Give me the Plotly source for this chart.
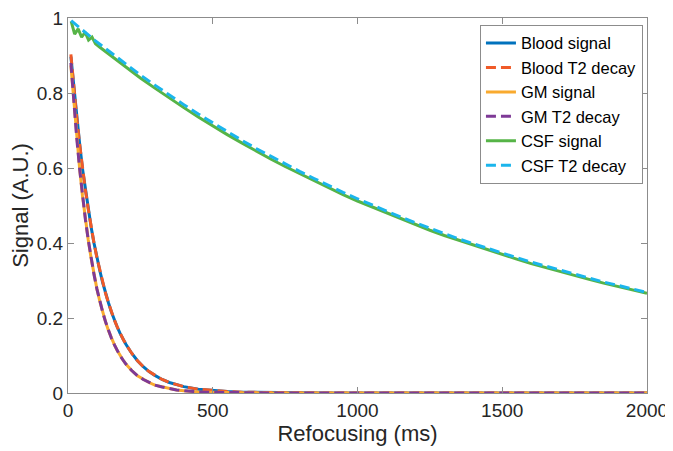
import plotly.graph_objects as go

# Refocusing times (ms) for blood / GM curves
fast_t = [10, 20, 30, 40, 50, 60, 70, 80, 90, 100, 110, 120, 130, 140, 150, 160, 170, 180, 190, 200,
          220, 240, 260, 280, 300, 325, 350, 375, 400, 450, 500, 550, 600, 700, 800, 900, 1000,
          1200, 1400, 1600, 1800, 2000]

blood_signal = [0.897, 0.818, 0.733, 0.666, 0.598, 0.543, 0.489, 0.442, 0.399, 0.360, 0.326, 0.294,
                0.265, 0.240, 0.216, 0.195, 0.176, 0.159, 0.144, 0.130, 0.106, 0.086, 0.070, 0.057,
                0.047, 0.036, 0.028, 0.022, 0.017, 0.010, 0.006, 0.004, 0.002, 0.001, 0.000, 0.000,
                0.000, 0.000, 0.000, 0.000, 0.000, 0.000]
blood_t2 = [0.903, 0.815, 0.736, 0.665, 0.600, 0.542, 0.490, 0.442, 0.399, 0.360, 0.326, 0.294,
            0.265, 0.240, 0.216, 0.195, 0.176, 0.159, 0.144, 0.130, 0.106, 0.086, 0.070, 0.057,
            0.047, 0.036, 0.028, 0.022, 0.017, 0.010, 0.006, 0.004, 0.002, 0.001, 0.000, 0.000,
            0.000, 0.000, 0.000, 0.000, 0.000, 0.000]
gm_signal = [0.874, 0.777, 0.678, 0.600, 0.526, 0.463, 0.408, 0.359, 0.315, 0.277, 0.244, 0.215,
             0.189, 0.166, 0.146, 0.129, 0.113, 0.099, 0.088, 0.077, 0.060, 0.046, 0.036, 0.028,
             0.021, 0.016, 0.011, 0.008, 0.006, 0.003, 0.002, 0.001, 0.001, 0.000, 0.000, 0.000,
             0.000, 0.000, 0.000, 0.000, 0.000, 0.000]
gm_t2 = [0.880, 0.774, 0.681, 0.599, 0.527, 0.463, 0.408, 0.359, 0.315, 0.277, 0.244, 0.215,
         0.189, 0.166, 0.146, 0.129, 0.113, 0.099, 0.088, 0.077, 0.060, 0.046, 0.036, 0.028,
         0.021, 0.016, 0.011, 0.008, 0.006, 0.003, 0.002, 0.001, 0.001, 0.000, 0.000, 0.000,
         0.000, 0.000, 0.000, 0.000, 0.000, 0.000]

# Refocusing times (ms) for CSF curves
csf_t = [11, 23, 35, 47, 59, 71, 83, 95, 110, 150, 200, 250, 300, 350, 400, 450, 500, 550, 600,
         650, 700, 750, 800, 850, 900, 950, 1000, 1050, 1100, 1150, 1200, 1250, 1300, 1350, 1400,
         1450, 1500, 1550, 1600, 1650, 1700, 1750, 1800, 1850, 1900, 1950, 2000]
csf_signal = [0.991, 0.957, 0.971, 0.949, 0.962, 0.941, 0.949, 0.931, 0.922, 0.898, 0.869, 0.840,
              0.813, 0.786, 0.761, 0.736, 0.712, 0.689, 0.667, 0.645, 0.624, 0.604, 0.585, 0.566,
              0.547, 0.529, 0.512, 0.496, 0.480, 0.464, 0.449, 0.434, 0.420, 0.407, 0.394, 0.381,
              0.369, 0.357, 0.345, 0.334, 0.324, 0.313, 0.303, 0.293, 0.284, 0.275, 0.266]
csf_t2 = [0.993, 0.985, 0.977, 0.970, 0.962, 0.954, 0.947, 0.939, 0.930, 0.906, 0.877, 0.848,
          0.821, 0.794, 0.769, 0.744, 0.720, 0.696, 0.674, 0.652, 0.631, 0.611, 0.591, 0.572,
          0.553, 0.535, 0.518, 0.501, 0.485, 0.469, 0.454, 0.439, 0.425, 0.411, 0.398, 0.385,
          0.373, 0.361, 0.349, 0.338, 0.327, 0.316, 0.306, 0.296, 0.287, 0.277, 0.268]

names = ["Blood signal", "Blood T2 decay", "GM signal", "GM T2 decay", "CSF signal", "CSF T2 decay"]
colors = ["#0072BD", "#F05A28", "#F9AA2E", "#7E3A96", "#56B447", "#1BB5EC"]

series = [
    (fast_t, blood_signal, "solid"),
    (fast_t, blood_t2, "10px,5px"),
    (fast_t, gm_signal, "solid"),
    (fast_t, gm_t2, "10px,5px"),
    (csf_t, csf_signal, "solid"),
    (csf_t, csf_t2, "10px,5px"),
]

fig = go.Figure()
for (xs, ys, dash), name, col in zip(series, names, colors):
    fig.add_trace(go.Scatter(x=xs, y=ys, mode="lines", name=name,
                             line=dict(color=col, width=3, dash=dash)))

axis_common = dict(showline=True, linecolor="#8c8c8c", linewidth=1, mirror="ticks",
                   ticks="inside", ticklen=6, tickcolor="#8c8c8c", showgrid=False,
                   zeroline=False, automargin=False, ticklabeloverflow="allow",
                   tickfont=dict(size=19, color="#262626"))

# page body has an 8px margin, so the figure is sized/margined to compensate
fig.update_layout(
    width=665, height=443,
    margin=dict(l=60, r=26, t=10, b=58, autoexpand=False),
    paper_bgcolor="white", plot_bgcolor="white",
    font=dict(family="Liberation Sans, Arial, sans-serif", color="#262626"),
    xaxis=dict(range=[0, 2000], tickvals=[0, 500, 1000, 1500, 2000],
               title=dict(text="Refocusing (ms)", font=dict(size=22), standoff=5), **axis_common),
    yaxis=dict(range=[0, 1], tickvals=[0, 0.2, 0.4, 0.6, 0.8, 1],
               ticktext=["0", "0.2", "0.4", "0.6", "0.8", "1"],
               title=dict(text="Signal (A.U.)", font=dict(size=22), standoff=4), **axis_common),
    legend=dict(x=0.993, y=0.982, xanchor="right", yanchor="top", bgcolor="white",
                bordercolor="#8c8c8c", borderwidth=1, font=dict(size=16.5, color="black"),
                tracegroupgap=0),
    showlegend=True,
)

fig.write_html("out.html")
